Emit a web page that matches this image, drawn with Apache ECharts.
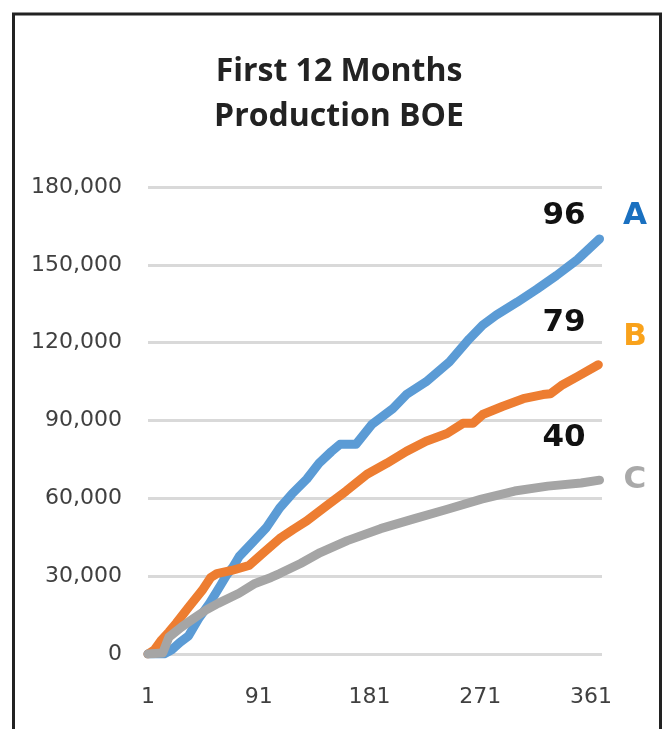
<!DOCTYPE html>
<html>
<head>
<meta charset="utf-8">
<script src="https://cdn.jsdelivr.net/npm/echarts@6/dist/echarts.min.js"></script>
<style>
  html, body { margin: 0; padding: 0; background: #fff; }
  #echarts { width: 665px; height: 729px; }
</style>
</head>
<body>
<div id="echarts"></div>
<script>
// cumulative production (BOE), per day
const daysA = [1, 8, 14, 20, 27, 34, 42, 51, 60, 65, 70, 75, 86, 97, 108, 118, 130, 140, 150, 157, 170, 183, 200, 211, 227, 246, 262, 273, 284, 301, 317, 333, 350, 368]
const prodA = [0, 0, 0, 1500, 4500, 7000, 13500, 19500, 26500, 30500, 33500, 37500, 43000, 48600, 56300, 61700, 67400, 73500, 78000, 80800, 80800, 88500, 94600, 100000, 104900, 112600, 121400, 126800, 130600, 135600, 140600, 145900, 152000, 160000]

const daysB = [1, 6, 12, 18, 24, 34, 45, 52, 57, 69, 83, 94, 108, 119, 130, 146, 162, 179, 195, 211, 227, 244, 257, 265, 273, 289, 306, 322, 328, 338, 350, 367]
const prodB = [0, 1500, 5400, 8500, 11900, 18000, 24500, 29500, 31000, 32200, 34100, 38700, 44500, 48000, 51300, 57100, 62800, 69300, 73500, 78100, 82000, 85000, 88900, 88900, 92300, 95400, 98400, 100000, 100300, 103800, 106900, 111500]

const daysC = [1, 13, 18, 28, 36, 48, 58, 75, 88, 101, 108, 125, 141, 163, 190, 217, 245, 272, 299, 326, 353, 368]
const prodC = [0, 400, 6500, 10300, 13000, 16900, 19500, 23400, 27200, 29500, 31000, 34900, 39100, 43700, 48300, 52100, 55900, 59700, 62800, 64700, 65900, 67000]

const seriesNames = ['A', 'B', 'C']
const wellCounts = [96, 79, 40]
const lineColors = ['#5B9BD5', '#ED7D31', '#A5A5A5']
const letterColors = ['#1A70C0', '#F9A21B', '#A9A9A9']

const pair = (xs, ys) => xs.map((x, i) => [x, ys[i]])
const seriesData = [pair(daysA, prodA), pair(daysB, prodB), pair(daysC, prodC)]

// where the count / letter annotations sit (px)
const countY = [216, 323, 438]
const letterY = [216, 337, 480]

var myChart = echarts.init(document.getElementById('echarts'))

const option = {
    animation: false,
    title: {
        text: 'First 12 Months\nProduction BOE',
        left: 339,
        top: 49,
        padding: 0,
        textAlign: 'center',
        textStyle: {
            fontFamily: 'Open Sans',
            fontWeight: 'bold',
            fontSize: 32,
            lineHeight: 45,
            color: '#222'
        }
    },
    grid: {
        left: 148,
        right: 63,
        top: 187,
        bottom: 75
    },
    xAxis: {
        type: 'value',
        min: 1,
        max: 370,
        interval: 90,
        axisLine: { show: false },
        axisTick: { show: false },
        splitLine: { show: false },
        axisLabel: {
            margin: 32,
            fontFamily: 'DejaVu Sans',
            fontSize: 22,
            color: '#404040',
            formatter: v => ((v - 1) % 90 === 0 ? String(v) : '')
        }
    },
    yAxis: {
        type: 'value',
        min: 0,
        max: 180000,
        interval: 30000,
        axisLine: { show: false },
        axisTick: { show: false },
        splitLine: { lineStyle: { color: '#D9D9D9', width: 3 } },
        axisLabel: {
            margin: 26,
            fontFamily: 'DejaVu Sans',
            fontSize: 22,
            color: '#404040',
            formatter: v => v.toLocaleString('en-US')
        }
    },
    series: seriesNames.map((name, i) => ({
        name: name,
        type: 'line',
        data: seriesData[i],
        showSymbol: false,
        symbol: 'none',
        lineStyle: { width: 9, color: lineColors[i], cap: 'round', join: 'round' },
        z: 2 + i
    })),
    graphic: [
        {
            type: 'rect',
            shape: { x: 13.5, y: 14, width: 647, height: 740 },
            style: { fill: 'none', stroke: '#222', lineWidth: 3 },
            silent: true
        },
        ...wellCounts.map((n, i) => ({
            type: 'text',
            x: 564,
            y: countY[i],
            style: {
                text: String(n),
                fontFamily: 'DejaVu Sans',
                fontWeight: 'bold',
                fontSize: 31,
                fill: '#111',
                align: 'center',
                verticalAlign: 'middle'
            }
        })),
        ...seriesNames.map((s, i) => ({
            type: 'text',
            x: 635,
            y: letterY[i],
            style: {
                text: s,
                fontFamily: 'DejaVu Sans',
                fontWeight: 'bold',
                fontSize: 31,
                fill: letterColors[i],
                align: 'center',
                verticalAlign: 'middle'
            }
        }))
    ]
}

myChart.setOption(option)
</script>
</body>
</html>
